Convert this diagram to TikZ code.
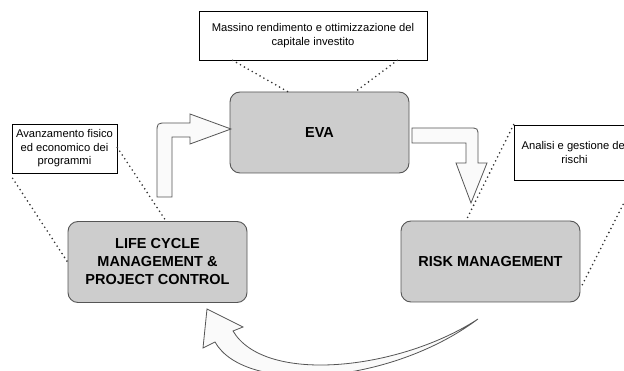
\documentclass[tikz,border=0pt]{standalone}
\usepackage{fontspec}
\setmainfont{Liberation Sans}
\usetikzlibrary{calc}
\definecolor{boxfill}{HTML}{CDCDCD}
\definecolor{boxline}{HTML}{555555}
\definecolor{arrfill}{HTML}{FAFAFA}
\definecolor{dotcol}{HTML}{333333}
\tikzset{
  mainbox/.style={draw=boxline, fill=boxfill, line width=0.9pt, rounded corners=10pt,
    minimum width=179pt, minimum height=81pt, align=center, inner sep=0pt,
    font=\fontsize{14.5}{18}\selectfont\bfseries},
  notebox/.style={draw=black, fill=white, line width=0.7pt, align=center, inner sep=0pt,
    font=\fontsize{11.2}{13.5}\selectfont},
  dotline/.style={draw=dotcol, line width=1.8pt, line cap=round, dash pattern=on 0pt off 4.5pt},
  blockarrow/.style={draw=boxline, fill=arrfill, line width=0.8pt, line join=miter}
}
\begin{document}
\begin{tikzpicture}[x=1pt,y=-1pt]
\useasboundingbox (0,0) rectangle (624,371);
\fill[white] (0,0) rectangle (624,371);
\clip (0,0) rectangle (624,371);

% main boxes
\node[mainbox] (eva) at (319.5,132.5) {EVA};
\node[mainbox] (lcm) at (157.5,262) {LIFE CYCLE\\MANAGEMENT \&\\PROJECT CONTROL};
\node[mainbox] (risk) at (490.5,261.5) {RISK MANAGEMENT};

% note boxes
\node[notebox, minimum width=228pt, minimum height=49pt] (ttop) at (313,35.5)
  {Massino rendimento e ottimizzazione del\\capitale investito};
\node[notebox, minimum width=105pt, minimum height=49pt] (tleft) at (64.5,148.5)
  {Avanzamento fisico\\ed economico dei\\programmi};
\node[notebox, minimum width=121pt, minimum height=55pt] (tright) at (574.5,152.5)
  {Analisi e gestione dei\\rischi};

% dotted connectors
\draw[dotline] ($(ttop.south west)+(34,0)$) -- ($(eva.north)+(-32,0)$);
\draw[dotline] ($(ttop.south east)+(-30,0)$) -- ($(eva.north)+(36,0)$);
\draw[dotline] ($(tleft.south west)+(1,5)$) -- (lcm.west);
\draw[dotline] ($(tleft.east)+(0,-1)$) -- ($(lcm.north)+(8.5,0)$);
\draw[dotline] (tright.north west) -- ($(risk.north)+(-24.5,0)$);
\draw[dotline] (tright.south east) -- ($(risk.south east)+(0,-14)$);

% bent arrow LCM -> EVA
\path[blockarrow] (157,197) -- (157,133) .. controls (157,123) .. (167,123)
  -- (190,123) -- (190,114) -- (231,129) -- (190,144) -- (190,137)
  -- (172,137) -- (172,197) -- cycle;

% bent arrow EVA -> RISK
\path[blockarrow] (412,128) -- (469,128) .. controls (478,128) .. (478,137)
  -- (478,163) -- (487,163) -- (471,203) -- (456,163) -- (466,163)
  -- (466,143) -- (412,143) -- cycle;

% curved arrow RISK -> LCM
\path[blockarrow] (478,319) .. controls (400,370) and (265,385) .. (233,331)
  -- (243,327) -- (207,309) -- (203,348) -- (215,342)
  .. controls (245,395) and (390,385) .. (478,319) -- cycle;
\end{tikzpicture}
\end{document}
